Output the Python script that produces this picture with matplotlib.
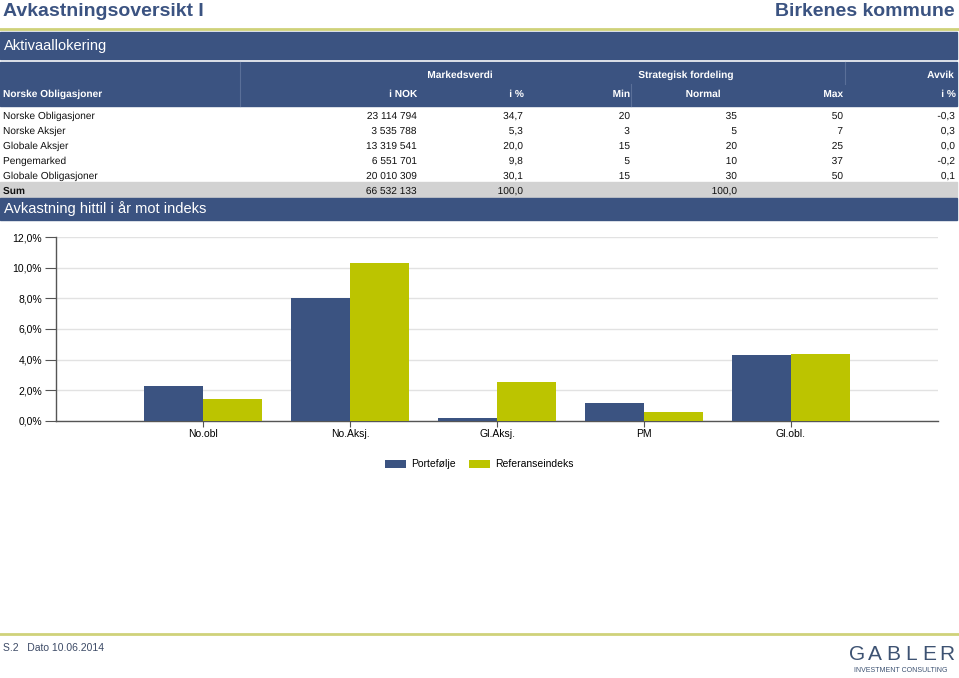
import matplotlib.pyplot as plt
import matplotlib.patheffects as pe
import numpy as np

plt.rcParams['font.family'] = ['Liberation Sans', 'DejaVu Sans']

NAVY = '#3b5381'
LIME = '#bcc400'
GOLD = '#cfd27a'
GREY_ROW = '#d2d2d2'

# table data
assets = ['Norske Obligasjoner', 'Norske Aksjer', 'Globale Aksjer', 'Pengemarked', 'Globale Obligasjoner']
value_nok = ['23 114 794', '3 535 788', '13 319 541', '6 551 701', '20 010 309']
share_pct = ['34,7', '5,3', '20,0', '9,8', '30,1']
strat_min = ['20', '3', '15', '5', '15']
strat_normal = ['35', '5', '20', '10', '30']
strat_max = ['50', '7', '25', '37', '50']
deviation = ['-0,3', '0,3', '0,0', '-0,2', '0,1']
sum_nok = '66 532 133'
sum_pct = '100,0'
sum_normal = '100,0'

# chart data
categories = ['No.obl', 'No.Aksj.', 'Gl.Aksj.', 'PM', 'Gl.obl.']
portfolio = [2.25, 8.05, 0.18, 1.14, 4.32]
benchmark = [1.40, 10.30, 2.55, 0.55, 4.38]
yticks = [0, 2, 4, 6, 8, 10, 12]

W, H = 959, 678
fig = plt.figure(figsize=(W / 100, H / 100), dpi=100)

# page layer in pixel coordinates
page = fig.add_axes([0, 0, 1, 1])
page.set_xlim(0, W)
page.set_ylim(H, 0)
page.axis('off')

# text drawn as paths keeps the row baselines level
as_path = [pe.Normal()]

page.text(3, 11, 'Avkastningsoversikt I', fontsize=14, fontweight='bold', color=NAVY, va='center')
page.text(955, 11, 'Birkenes kommune', fontsize=14, fontweight='bold', color=NAVY, va='center', ha='right')
page.plot([0, W], [29, 29], color=GOLD, lw=2)

page.add_patch(plt.Rectangle((0, 32), 957, 27, color=NAVY))
page.text(4, 46, 'Aktivaallokering', fontsize=10.5, color='white', va='center')

page.add_patch(plt.Rectangle((0, 62), 957, 44, color=NAVY))
sep = '#5a6f98'
page.plot([240, 240], [62, 106], color=sep, lw=0.8)
page.plot([631, 631], [84, 106], color=sep, lw=0.8)
page.plot([845, 845], [62, 84], color=sep, lw=0.8)

hdr = dict(fontsize=7.3, color='white', fontweight='bold', va='baseline', path_effects=as_path)
page.text(460, 78, 'Markedsverdi', ha='center', **hdr)
page.text(686, 78, 'Strategisk fordeling', ha='center', **hdr)
page.text(954, 78, 'Avvik', ha='right', **hdr)
page.text(3, 97, 'Norske Obligasjoner', ha='left', **hdr)
page.text(417, 97, 'i NOK', ha='right', **hdr)
page.text(524, 97, 'i %', ha='right', **hdr)
page.text(630, 97, 'Min', ha='right', **hdr)
page.text(703, 97, 'Normal', ha='center', **hdr)
page.text(843, 97, 'Max', ha='right', **hdr)
page.text(956, 97, 'i %', ha='right', **hdr)

cell = dict(fontsize=7.3, color='#111111', va='baseline', path_effects=as_path)
row_y = 119
for i in range(len(assets)):
    y = row_y + 15 * i
    page.text(3, y, assets[i], ha='left', **cell)
    page.text(417, y, value_nok[i], ha='right', **cell)
    page.text(523, y, share_pct[i], ha='right', **cell)
    page.text(630, y, strat_min[i], ha='right', **cell)
    page.text(737, y, strat_normal[i], ha='right', **cell)
    page.text(843, y, strat_max[i], ha='right', **cell)
    page.text(955, y, deviation[i], ha='right', **cell)

page.add_patch(plt.Rectangle((0, 182), 957, 15, color=GREY_ROW))
page.text(3, 194, 'Sum', ha='left', fontweight='bold', **cell)
page.text(417, 194, sum_nok, ha='right', **cell)
page.text(523, 194, sum_pct, ha='right', **cell)
page.text(737, 194, sum_normal, ha='right', **cell)

page.add_patch(plt.Rectangle((0, 198), 957, 22, color=NAVY))
page.text(4, 209, 'Avkastning hittil i år mot indeks', fontsize=10.5, color='white', va='center')

# footer
page.plot([0, W], [634, 634], color=GOLD, lw=2)
page.text(3, 648, 'S.2   Dato 10.06.2014', fontsize=7.5, color='#3c4a66', va='center')
for k, ch in enumerate('GABLER'):
    page.text(857 + 18 * k, 654, ch, fontsize=15, color='#3d5272', ha='center', va='center')
page.text(901, 670, 'INVESTMENT CONSULTING', fontsize=5, color='#3d5272', ha='center', va='center')

# bar chart
ax = fig.add_axes([56 / W, 1 - 420.7 / H, 882 / W, 183.4 / H])
x = np.arange(1, len(categories) + 1)
bw = 0.4
ax.bar(x - bw / 2, portfolio, bw, color=NAVY, label='Portefølje', zorder=3)
ax.bar(x + bw / 2, benchmark, bw, color=LIME, label='Referanseindeks', zorder=3)
ax.set_xlim(0, 6)
ax.set_ylim(0, 12)
ax.set_yticks(yticks)
ax.set_yticklabels([f'{v:.1f}%'.replace('.', ',') for v in yticks], fontsize=7.5)
ax.set_xticks(x)
ax.set_xticklabels(categories, fontsize=7.5)
ax.grid(axis='y', color='#e2e2e2', lw=1, zorder=0)
for s in ['top', 'right']:
    ax.spines[s].set_visible(False)
for s in ['left', 'bottom']:
    ax.spines[s].set_color('#555555')
    ax.spines[s].set_linewidth(1)
ax.tick_params(axis='y', length=8, width=0.8, color='#555555', pad=2)
ax.tick_params(axis='x', length=4, width=0.8, color='#555555', pad=2)
ax.legend(loc='upper center', bbox_to_anchor=(0.48, -0.16), ncol=2, frameon=False,
          fontsize=7.5, handlelength=2.0, handleheight=0.9, columnspacing=1.3, handletextpad=0.5)

fig.savefig('out.png', dpi=100)
